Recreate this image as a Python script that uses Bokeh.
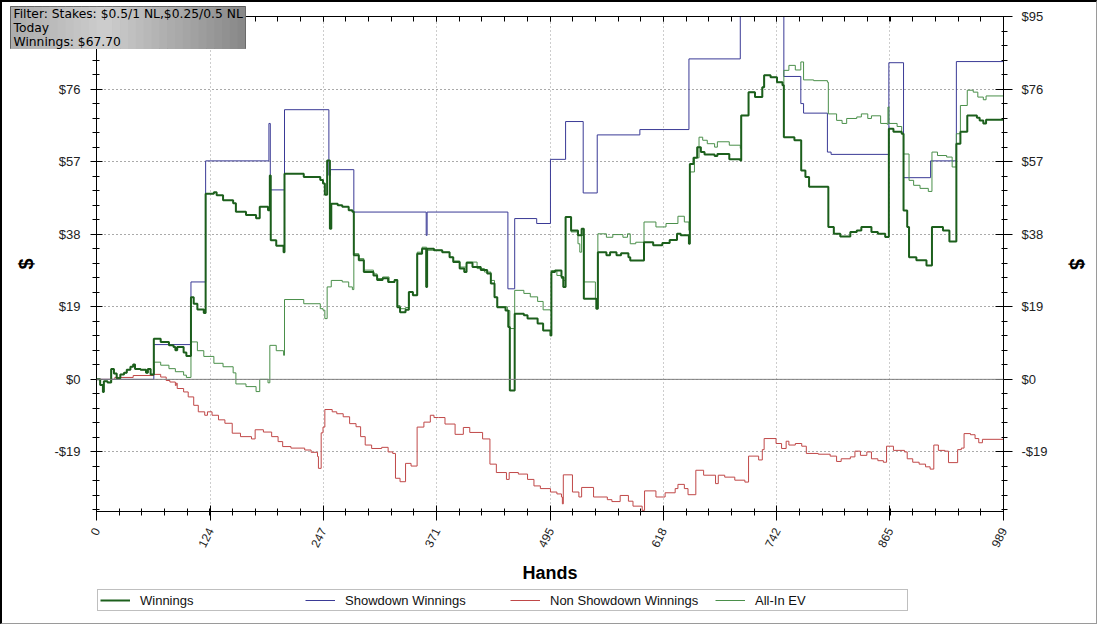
import numpy as np
from bokeh.plotting import figure
from bokeh.layouts import column
from bokeh.models import (Range1d, LinearAxis, FixedTicker, Span, Legend,
                          LegendItem, Label, BoxAnnotation)
from bokeh.embed import file_html
from bokeh.resources import INLINE

# ---------------- data ----------------
x_tick_labels = [0, 124, 247, 371, 495, 618, 742, 865, 989]
y_tick_values = [-19, 0, 19, 38, 57, 76, 95]

win_hands = [0, 4, 7, 8, 12, 16, 19, 22, 26, 30, 33, 37, 40, 42, 48, 54, 56, 59,
             62.5, 70, 79, 84, 86, 88, 95, 98, 103, 106, 110, 117, 119, 128, 131,
             138, 149, 152, 163, 174, 178, 187, 189, 190, 196, 204, 205, 226, 244,
             247, 249, 251.5, 254.5, 256, 263, 268, 275, 279, 280.6, 286, 291.5,
             302, 306, 312, 318, 325, 328, 331, 337, 340.6, 345, 349.7, 355, 359.5,
             360.5, 368, 377, 385, 389, 396, 401, 403.5, 410, 419, 426, 430, 434,
             437, 446, 449, 450.7, 456, 466, 470, 481, 487, 495, 496, 500, 507, 509,
             511.5, 517.5, 525, 529, 531.4, 545, 546.7, 556, 560, 567, 572, 580, 582,
             597, 607, 617, 625, 633, 637, 646, 647, 651, 655, 659, 663, 674, 677,
             690, 702, 703, 711, 718, 726, 728, 735, 742, 748, 749.5, 761, 768.4,
             773, 777, 798, 804, 811, 822, 829, 834, 845, 852, 860, 864, 869, 878,
             880, 884, 886, 894, 905, 911, 923, 930, 937.6, 942, 949.5, 960, 963,
             967, 970, 989]
win_values = [0, -1.5, -3.3, -0.5, -0.8, 2.7, 1.5, 0.3, 1.3, 1.7, 2.5, 3.3, 3.9, 2.7,
              2.5, 1.7, 2.7, 1.3, 10.6, 9.8, 8.9, 8.5, 7.6, 8.5, 7.0, 6.1, 21.5, 19.8,
              18.3, 17.4, 48.6, 49.0, 48.2, 46.9, 46.1, 43.9, 43.0, 42.2, 45.2, 44.3,
              53.4, 36.4, 35.0, 33.3, 53.8, 53.0, 52.2, 51.3, 48.3, 57.3, 39.4, 46.0,
              45.6, 45.2, 44.3, 43.9, 32.5, 31.2, 28.1, 27.2, 26.0, 26.5, 25.5, 26.0,
              18.9, 17.6, 18.2, 22.9, 22.0, 32.9, 34.2, 24.2, 34.2, 33.8, 33.3, 32.0,
              30.7, 29.0, 28.1, 30.5, 29.4, 28.6, 27.7, 25.1, 21.5, 18.9, 18.0, 13.7,
              -2.9, 17.2, 16.8, 15.9, 14.6, 12.8, 11.5, 28.1, 28.5, 26.8, 24.2, 42.5,
              39.0, 37.7, 39.4, 21.1, 18.5, 33.3, 32.5, 33.3, 32.5, 33.0, 32.0, 31.1,
              35.9, 35.1, 35.7, 36.5, 38.1, 37.7, 35.5, 56.4, 58.0, 60.8, 59.5, 58.9,
              58.5, 59.0, 57.6, 57.3, 69.1, 75.2, 73.9, 76.5, 79.6, 79.1, 77.8, 77.0,
              63.4, 62.6, 54.7, 53.0, 50.4, 39.9, 38.1, 37.4, 38.6, 39.0, 39.9, 38.6,
              38.1, 37.3, 65.6, 64.8, 64.3, 44.2, 39.9, 32.0, 31.2, 29.8, 39.9, 39.0,
              36.1, 61.7, 64.8, 69.1, 68.5, 67.8, 67.0, 68.0, 67.7]

sd_hands = [0, 62.5, 103, 119, 188, 189.5, 205, 253.4, 255, 280.6, 359.5, 360.5,
            448.6, 456, 480, 495, 511.5, 530.7, 546, 592.5, 646, 702, 749.5, 768,
            771, 797, 801, 864, 880, 909.5, 937.6, 989]
sd_values = [0, 9.1, 25.5, 57.2, 67.0, 49.6, 70.6, 53.4, 54.9, 43.8, 37.7, 43.8,
             23.7, 42.1, 40.8, 57.6, 67.5, 48.8, 64.0, 65.4, 83.9, 100.0, 79.3, 72.2,
             69.7, 59.5, 58.9, 82.9, 52.8, 57.2, 83.2, 83.2]

nsd_hands = [0, 20, 40, 62.5, 70, 76, 80, 86, 87, 88, 95, 100, 106, 111, 118, 121,
             126, 133, 140, 148, 157, 169, 173, 182, 191, 198, 203, 212, 227, 234,
             241, 242, 245, 247, 249, 257, 262, 269, 276, 283, 288, 293, 300, 311,
             318, 323, 326, 331, 337, 343, 349.6, 357, 364, 368, 373, 380, 391, 400,
             407, 421, 429, 436, 447, 450, 460, 470, 477, 484, 495, 502, 507, 508,
             509, 519, 526, 529, 542, 557, 562, 571, 580, 585, 595, 597.6, 610, 620,
             631, 634, 641, 645, 653.5, 662, 675, 678, 685, 696, 707, 711, 722, 726,
             728, 741, 747, 752, 755, 762, 769, 774, 787, 800, 807, 812, 822, 827,
             833, 840, 845, 852, 858, 861.5, 869, 881, 884, 890, 897, 904, 909, 913,
             918, 925, 929, 939, 943, 946, 953, 958, 962, 966, 989]
nsd_values = [0, 0.5, 1.0, 1.3, 0.6, -0.3, -0.7, -1.6, -1.0, -2.4, -3.3, -4.6, -6.8,
              -8.5, -9.4, -8.5, -9.4, -10.6, -11.5, -14.1, -15.0, -15.6, -13.2, -13.8,
              -15.0, -16.3, -17.6, -18.0, -18.5, -19.1, -20.2, -23.3, -14.0, -12.5,
              -7.9, -8.5, -9.0, -9.8, -11.6, -12.4, -15.0, -17.2, -18.1, -17.8, -19.0,
              -19.4, -25.9, -26.8, -22.0, -22.7, -12.5, -11.2, -9.4, -10.0, -10.0,
              -11.7, -14.4, -12.6, -13.9, -15.6, -22.2, -24.4, -26.2, -24.4, -24.8,
              -26.2, -27.9, -28.6, -29.5, -30.0, -30.8, -32.6, -25.0, -29.5, -30.8,
              -28.3, -30.8, -31.5, -32.0, -30.4, -31.9, -33.2, -34.3, -29.2, -30.8,
              -29.7, -28.6, -27.5, -28.6, -30.2, -23.8, -25.1, -27.3, -25.1, -25.6,
              -26.4, -26.9, -20.1, -21.1, -18.4, -15.5, -16.8, -18.1, -16.2, -17.2,
              -16.8, -17.5, -19.4, -19.6, -20.1, -21.5, -20.8, -20.3, -18.8, -19.9,
              -19.0, -20.8, -21.3, -21.7, -17.5, -18.6, -19.0, -20.8, -21.7, -22.2,
              -22.9, -23.5, -17.2, -18.6, -18.8, -21.8, -18.4, -18.0, -14.2, -14.5,
              -15.5, -16.6, -15.7, -15.7]

ev_hands = [0, 4, 7, 8, 12, 16, 19, 22, 26, 30, 33, 37, 40, 42, 48, 54, 56, 59, 62.5,
            70, 79, 86, 95, 98, 103, 110, 117, 128, 138, 149, 152, 163, 174, 178, 187,
            189, 196, 204, 205, 226, 244, 247, 249, 251.5, 256, 268, 275, 279, 280.6,
            286, 291.5, 302, 306, 312, 319, 325, 328, 331, 337, 341, 345, 349.7, 355,
            360, 377, 385, 389, 396, 403.5, 415, 423, 430, 434, 437, 448, 450.7, 456,
            466, 473, 481, 487, 495, 496, 502, 507, 509, 511.5, 517.5, 525, 527, 529,
            531.4, 544, 546.7, 556, 563, 574, 579, 582, 588, 597, 610, 621, 634, 641,
            646, 647, 652, 657, 661, 666, 674, 677, 690, 702, 703, 711, 718, 726, 728,
            735, 742, 748, 749.5, 755, 762, 768, 771, 782, 797, 798, 807, 813, 818,
            829, 834, 841, 845, 855, 862, 863, 864, 873, 878, 880, 886, 891, 898, 907,
            911, 917, 927, 933, 937.6, 942, 949.5, 956, 961, 967, 970, 989]
ev_values = [0, -1.5, -3.3, -0.5, -0.8, 2.7, 1.5, 0.3, 1.3, 1.7, 2.5, 3.3, 3.9, 2.7,
             2.5, 1.7, 2.7, 1.3, 4.5, 3.7, 2.8, 2.0, 1.1, 0.5, 9.8, 7.5, 6.0, 4.2, 3.3,
             1.7, -1.2, -1.9, -3.2, 0.0, -0.9, 8.9, 7.5, 6.3, 20.9, 19.8, 18.5, 18.1,
             15.9, 24.2, 25.9, 25.5, 24.2, 23.5, 32.9, 31.6, 28.6, 27.6, 26.4, 26.8,
             25.4, 26.1, 19.3, 18.5, 18.8, 22.9, 22.0, 33.3, 34.6, 33.8, 33.3, 32.0,
             31.0, 29.4, 30.7, 29.0, 28.1, 25.9, 21.5, 19.0, 18.0, 13.3, 23.3, 22.5,
             21.6, 20.4, 18.2, 18.0, 28.5, 27.2, 26.4, 25.9, 42.5, 38.6, 35.5, 33.3,
             37.7, 25.5, 21.1, 38.1, 37.2, 37.9, 37.2, 38.1, 35.5, 35.9, 41.2, 39.9,
             40.8, 42.7, 41.2, 39.0, 54.3, 58.0, 63.4, 62.6, 61.7, 60.8, 62.2, 61.3,
             60.5, 69.1, 75.2, 73.9, 76.5, 79.6, 79.1, 77.8, 77.0, 80.9, 82.2, 81.0,
             83.1, 78.4, 78.2, 77.8, 69.5, 67.8, 67.0, 68.3, 68.7, 69.5, 68.3, 69.0,
             67.0, 66.8, 71.3, 67.0, 66.2, 64.3, 59.0, 52.1, 50.8, 50.0, 49.2, 59.5,
             58.6, 58.2, 55.6, 64.3, 71.7, 75.7, 75.2, 73.9, 73.2, 74.2, 74.2]

series_names = ["Winnings", "Showdown Winnings", "Non Showdown Winnings", "All-In EV"]
series_colors = ["#1c5f1c", "#3a3a96", "#c04848", "#4a8f4a"]
series_widths = [2, 1, 1, 1]
filter_lines = ["Filter: Stakes: $0.5/1 NL,$0.25/0.5 NL", "Today", "Winnings: $67.70"]

series = [(win_hands, win_values), (sd_hands, sd_values),
          (nsd_hands, nsd_values), (ev_hands, ev_values)]
draw_order = [2, 1, 3, 0]

# ---------------- layout constants ----------------
BL, BR, BT, BB = 94, 93, 14, 76      # borders of the main chart
FW, FH = 907, 495                    # frame size
LEG_H = 36
BW, BH = 235, 43                     # filter box size
ABOVE = BT + FH + BB + LEG_H         # height of chart + legend strip
MT = 6 - 2 - ABOVE                   # pull the filter box up onto the chart
MB = -MT - BH                        # ...and give the space back

# ---------------- main figure ----------------
FONT = "Liberation Sans"
p = figure(frame_width=FW, frame_height=FH, output_backend="svg",
           toolbar_location=None,
           x_range=Range1d(0, 989), y_range=Range1d(-34.6, 95),
           min_border_left=BL, min_border_right=BR, min_border_top=BT,
           min_border_bottom=BB, background_fill_color="white",
           border_fill_color="white", outline_line_color="black")

xt = FixedTicker(ticks=x_tick_labels, minor_ticks=[989 * k / 40 for k in range(41)])
yt = FixedTicker(ticks=y_tick_values, minor_ticks=[3.8 * k for k in range(-9, 26)])
y_over = {v: (f"-${-v}" if v < 0 else f"${v}") for v in y_tick_values}

def style_axis(ax):
    ax.axis_line_color = "black"
    ax.major_tick_line_color = "black"
    ax.minor_tick_line_color = "black"
    ax.major_label_text_font = FONT
    ax.major_label_text_font_size = "13px"
    ax.major_label_text_color = "#222222"
    ax.axis_label_text_font = FONT
    ax.axis_label_text_font_style = "bold"
    ax.axis_label_text_color = "black"

xa = p.xaxis[0]
xa.ticker = xt
style_axis(xa)
xa.major_label_text_font_size = "12px"
xa.major_label_orientation = 1.1
xa.major_label_standoff = 8
xa.major_tick_in = 6
xa.major_tick_out = 9
xa.minor_tick_in = 3
xa.minor_tick_out = 4
xa.axis_label = "Hands"
xa.axis_label_text_font_size = "18px"
xa.axis_label_standoff = 10

ya = p.yaxis[0]
ya.ticker = yt
ya.major_label_overrides = y_over
style_axis(ya)
ya.major_tick_in = 6
ya.major_tick_out = 6
ya.minor_tick_in = 3
ya.minor_tick_out = 4
ya.major_label_standoff = 10
ya.axis_label = "$"
ya.axis_label_text_font_size = "20px"
ya.axis_label_standoff = 14

ra = LinearAxis(ticker=yt, major_label_overrides=y_over)
style_axis(ra)
ra.major_tick_in = 8
ra.major_tick_out = 9
ra.minor_tick_in = 2
ra.minor_tick_out = 4
ra.major_label_standoff = 9
ra.axis_label = "$"
ra.axis_label_text_font_size = "20px"
ra.axis_label_standoff = 15
p.add_layout(ra, "right")

ta = LinearAxis(ticker=xt, major_label_overrides={v: "" for v in x_tick_labels})
style_axis(ta)
ta.major_label_text_font_size = "1px"
ta.major_label_standoff = 0
ta.major_tick_in = 5
ta.major_tick_out = 0
ta.minor_tick_in = 5
ta.minor_tick_out = 0
p.add_layout(ta, "above")

p.xgrid.ticker = xt
p.ygrid.ticker = yt
p.xgrid.grid_line_color = "#9a9a9a"
p.xgrid.grid_line_dash = "1 3"
p.ygrid.grid_line_color = "#555555"
p.ygrid.grid_line_dash = "1 3"

p.add_layout(Span(location=0, dimension="width", line_color="#808080", line_width=1))

for i in draw_order:
    hx, vy = series[i]
    p.step(hx, vy, mode="after", line_color=series_colors[i],
           line_width=series_widths[i])

# ---------------- legend strip (below the chart) ----------------
lf = figure(width=BL + FW + BR, height=LEG_H, output_backend="svg",
            toolbar_location=None,
            x_range=Range1d(0, 1), y_range=Range1d(1000, 1001),
            min_border=0, x_axis_location=None, y_axis_location=None,
            outline_line_color=None, background_fill_color="white",
            border_fill_color="white")
lf.grid.visible = False
items = []
for i in range(4):
    hx, vy = series[i]
    r = lf.step(hx, vy, mode="after", line_color=series_colors[i],
                line_width=series_widths[i])
    items.append(LegendItem(label=series_names[i], renderers=[r]))
legend = Legend(items=items, orientation="horizontal", location=(1, 12), margin=0,
                padding=2, spacing=15, glyph_width=30, glyph_height=16,
                label_width=150, label_height=16, label_standoff=10,
                label_text_font=FONT, label_text_font_size="13px",
                label_text_color="#111111", border_line_color="#808080",
                border_line_width=1, background_fill_color="white",
                background_fill_alpha=1)
lf.add_layout(legend)

# ---------------- filter box (overlaid on top-left) ----------------
bf = figure(width=BL + BW + BR, height=BH, output_backend="svg",
            toolbar_location=None,
            x_range=Range1d(0, BW), y_range=Range1d(BH, 0), min_border=0,
            x_axis_location=None, y_axis_location=None,
            outline_line_color="#4a4a4a", background_fill_color="#b0b0b0",
            border_fill_color=None, border_fill_alpha=0,
            margin=(MT, 0, MB, 10 - 2 - BL))
bf.grid.visible = False
n = 30
for i in range(n):
    t = (i + 0.5) / n
    g = int(np.interp(t, [0, 0.4, 1], [172, 206, 136]))
    col = "#%02x%02x%02x" % (g, g, g)
    bf.add_layout(BoxAnnotation(left=BW * i / n, right=BW * (i + 1) / n + 0.5,
                                bottom=BH, top=0, fill_color=col, fill_alpha=1,
                                line_color=None))
for txt, yv in zip(filter_lines, [7.5, 21.5, 35.5]):
    bf.add_layout(Label(x=3, y=yv, text=txt, text_font="DejaVu Sans",
                        text_font_size="12.3px", text_baseline="middle",
                        text_color="black"))

layout = column(p, lf, bf, spacing=0)
layout.styles = {"border-top": "2px solid #000000", "border-left": "2px solid #000000",
                 "border-right": "1px solid #9a9a9a", "border-bottom": "1px solid #9a9a9a"}
open("out.html", "w").write(file_html(layout, INLINE))
